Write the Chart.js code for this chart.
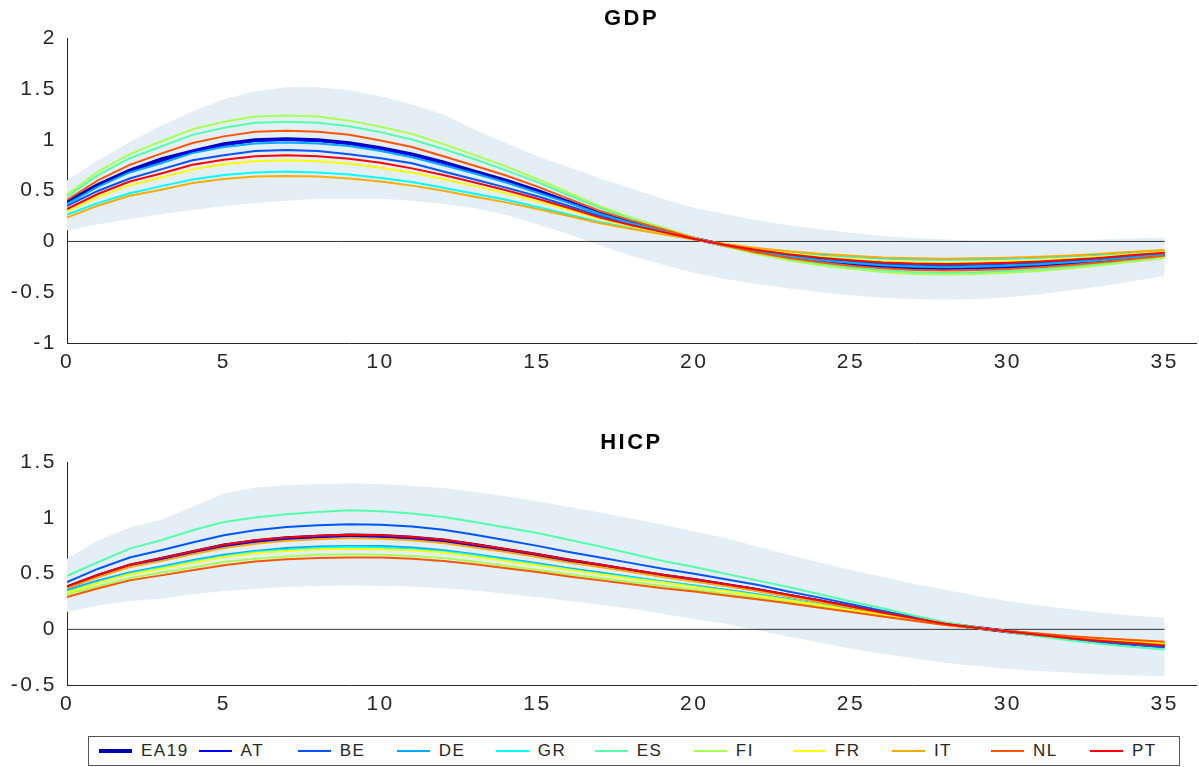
<!DOCTYPE html>
<html>
<head>
<meta charset="utf-8">
<script src="https://cdn.jsdelivr.net/npm/chart.js@4.4.1/dist/chart.umd.min.js"></script>
<style>
  html, body { margin: 0; padding: 0; background: #ffffff; }
  body { width: 1199px; height: 767px; position: relative; overflow: hidden; font-family: "Liberation Sans", Arial, sans-serif; }
  #c1 { position: absolute; left: 0; top: 0; }
  #c2 { position: absolute; left: 0; top: 420px; }
  #legend { position: absolute; left: 88px; top: 736px; width: 1090px; height: 28px; border: 1px solid #555; display: grid; grid-template-columns: repeat(11, 1fr); align-items: center; background: #fff; }
  .item { display: flex; align-items: center; padding-left: 10px; }
  .swatch { width: 33px; height: 0; margin-right: 9px; }
  .lbl { font-size: 17px; letter-spacing: 1.5px; color: #262626; }
</style>
</head>
<body>
<canvas id="c1" width="1199" height="380"></canvas>
<canvas id="c2" width="1199" height="300"></canvas>
<div id="legend"></div>
<script>
// ---------- data ----------
const periods = [0,1,2,3,4,5,6,7,8,9,10,11,12,13,14,15,16,17,18,19,20,21,22,23,24,25,26,27,28,29,30,31,32,33,34,35];
const xTicks = [0,5,10,15,20,25,30,35];
const gdpYTicks = [-1,-0.5,0,0.5,1,1.5,2];
const hicpYTicks = [-0.5,0,0.5,1,1.5];
const countries = ["EA19","AT","BE","DE","GR","ES","FI","FR","IT","NL","PT"];
const colors = ["#0000AA","#0000FF","#0055FF","#00AAFF","#00FFFF","#55FFAA","#AAFF55","#FFFF00","#FFAA00","#FF5500","#FF0000"];

const gdpEA19 = [0.39,0.56,0.70,0.81,0.89,0.96,1.00,1.01,1.00,0.97,0.92,0.86,0.78,0.69,0.60,0.50,0.39,0.28,0.19,0.11,0.03,-0.04,-0.10,-0.15,-0.19,-0.22,-0.245,-0.26,-0.265,-0.26,-0.25,-0.235,-0.215,-0.19,-0.16,-0.13];
const gdpAT = [0.38,0.55,0.69,0.79,0.89,0.95,0.99,1.00,0.99,0.96,0.91,0.85,0.77,0.68,0.59,0.49,0.39,0.28,0.19,0.11,0.03,-0.04,-0.10,-0.15,-0.19,-0.22,-0.24,-0.255,-0.26,-0.26,-0.25,-0.23,-0.21,-0.19,-0.16,-0.13];
const gdpBE = [0.35,0.50,0.62,0.71,0.80,0.85,0.89,0.90,0.89,0.86,0.82,0.77,0.69,0.61,0.53,0.445,0.35,0.25,0.17,0.10,0.03,-0.035,-0.09,-0.135,-0.17,-0.195,-0.22,-0.23,-0.235,-0.23,-0.22,-0.21,-0.19,-0.17,-0.14,-0.115];
const gdpDE = [0.37,0.54,0.68,0.77,0.87,0.93,0.965,0.975,0.965,0.94,0.89,0.83,0.75,0.67,0.58,0.48,0.38,0.27,0.18,0.105,0.03,-0.04,-0.095,-0.145,-0.185,-0.21,-0.235,-0.25,-0.255,-0.25,-0.24,-0.225,-0.205,-0.185,-0.155,-0.125];
const gdpGR = [0.265,0.38,0.475,0.545,0.61,0.655,0.68,0.69,0.68,0.66,0.625,0.585,0.53,0.47,0.41,0.34,0.265,0.19,0.13,0.075,0.02,-0.027,-0.068,-0.10,-0.13,-0.15,-0.167,-0.177,-0.18,-0.177,-0.17,-0.16,-0.146,-0.13,-0.11,-0.09];
const gdpES = [0.44,0.655,0.82,0.935,1.05,1.12,1.17,1.18,1.17,1.135,1.075,1.005,0.91,0.81,0.70,0.585,0.455,0.33,0.22,0.13,0.035,-0.047,-0.117,-0.175,-0.22,-0.257,-0.287,-0.304,-0.31,-0.304,-0.29,-0.275,-0.25,-0.22,-0.187,-0.152];
const gdpFI = [0.46,0.69,0.86,0.985,1.105,1.18,1.23,1.24,1.23,1.19,1.13,1.06,0.96,0.85,0.74,0.615,0.48,0.345,0.235,0.135,0.037,-0.05,-0.123,-0.185,-0.234,-0.27,-0.30,-0.32,-0.326,-0.32,-0.307,-0.29,-0.264,-0.234,-0.197,-0.16];
const gdpFR = [0.295,0.44,0.555,0.63,0.71,0.76,0.79,0.80,0.79,0.765,0.725,0.68,0.615,0.545,0.475,0.395,0.31,0.22,0.15,0.087,0.024,-0.032,-0.079,-0.118,-0.15,-0.174,-0.194,-0.205,-0.21,-0.205,-0.198,-0.186,-0.17,-0.15,-0.126,-0.103];
const gdpIT = [0.235,0.355,0.45,0.51,0.575,0.615,0.64,0.645,0.64,0.62,0.59,0.55,0.50,0.44,0.385,0.32,0.25,0.18,0.122,0.07,0.02,-0.026,-0.064,-0.096,-0.122,-0.14,-0.157,-0.166,-0.17,-0.166,-0.16,-0.15,-0.138,-0.122,-0.102,-0.083];
const gdpNL = [0.41,0.605,0.755,0.865,0.97,1.035,1.08,1.09,1.08,1.05,0.995,0.93,0.84,0.745,0.65,0.54,0.42,0.30,0.205,0.12,0.032,-0.043,-0.108,-0.162,-0.205,-0.238,-0.265,-0.28,-0.286,-0.28,-0.27,-0.254,-0.232,-0.205,-0.173,-0.14];
const gdpPT = [0.32,0.47,0.59,0.67,0.755,0.805,0.84,0.85,0.84,0.815,0.775,0.72,0.655,0.58,0.505,0.42,0.33,0.235,0.16,0.092,0.025,-0.034,-0.084,-0.126,-0.16,-0.185,-0.206,-0.218,-0.223,-0.218,-0.21,-0.197,-0.18,-0.16,-0.134,-0.11];
const gdpUpper = [0.60,0.80,0.98,1.14,1.28,1.40,1.48,1.52,1.52,1.49,1.43,1.35,1.25,1.10,0.97,0.84,0.73,0.62,0.52,0.42,0.33,0.27,0.21,0.16,0.12,0.085,0.055,0.035,0.02,0.01,0.005,0.005,0.01,0.02,0.03,0.04];
const gdpLower = [0.11,0.17,0.22,0.27,0.31,0.35,0.38,0.40,0.42,0.42,0.42,0.40,0.37,0.33,0.26,0.17,0.07,-0.04,-0.14,-0.23,-0.31,-0.37,-0.42,-0.46,-0.50,-0.53,-0.555,-0.57,-0.575,-0.57,-0.55,-0.52,-0.48,-0.44,-0.39,-0.34];

const hicpEA19 = [0.38,0.485,0.575,0.635,0.695,0.755,0.795,0.82,0.835,0.845,0.84,0.825,0.80,0.76,0.715,0.67,0.62,0.575,0.53,0.485,0.445,0.40,0.355,0.305,0.255,0.20,0.15,0.10,0.05,0.015,-0.02,-0.05,-0.08,-0.105,-0.125,-0.145];
const hicpAT = [0.375,0.48,0.565,0.625,0.685,0.745,0.785,0.81,0.825,0.835,0.83,0.815,0.79,0.75,0.705,0.66,0.61,0.565,0.52,0.48,0.44,0.395,0.35,0.30,0.25,0.197,0.148,0.098,0.049,0.015,-0.02,-0.05,-0.079,-0.103,-0.123,-0.143];
const hicpBE = [0.425,0.545,0.645,0.71,0.78,0.845,0.89,0.92,0.935,0.945,0.94,0.925,0.895,0.85,0.80,0.75,0.695,0.645,0.595,0.545,0.50,0.45,0.40,0.34,0.285,0.225,0.168,0.112,0.056,0.017,-0.022,-0.056,-0.09,-0.118,-0.14,-0.162];
const hicpDE = [0.355,0.44,0.51,0.565,0.62,0.67,0.705,0.73,0.745,0.75,0.75,0.735,0.71,0.675,0.635,0.595,0.55,0.51,0.47,0.43,0.395,0.355,0.315,0.27,0.225,0.178,0.133,0.089,0.045,0.013,-0.018,-0.045,-0.071,-0.093,-0.111,-0.129];
const hicpGR = [0.335,0.425,0.50,0.555,0.61,0.66,0.695,0.715,0.73,0.74,0.735,0.72,0.70,0.665,0.625,0.585,0.54,0.50,0.465,0.425,0.39,0.35,0.31,0.267,0.223,0.175,0.131,0.088,0.044,0.013,-0.018,-0.044,-0.07,-0.092,-0.109,-0.127];
const hicpES = [0.48,0.605,0.725,0.80,0.89,0.965,1.005,1.035,1.055,1.07,1.06,1.04,1.01,0.965,0.915,0.865,0.805,0.745,0.68,0.615,0.56,0.50,0.44,0.38,0.315,0.25,0.19,0.125,0.063,0.019,-0.025,-0.063,-0.10,-0.132,-0.158,-0.18];
const hicpFI = [0.315,0.39,0.46,0.51,0.555,0.605,0.635,0.655,0.67,0.675,0.67,0.66,0.64,0.61,0.57,0.535,0.495,0.46,0.425,0.39,0.355,0.32,0.285,0.245,0.205,0.16,0.12,0.08,0.04,0.012,-0.016,-0.04,-0.064,-0.084,-0.10,-0.116];
const hicpFR = [0.33,0.42,0.495,0.545,0.60,0.65,0.685,0.705,0.72,0.725,0.72,0.71,0.69,0.655,0.615,0.575,0.535,0.495,0.455,0.42,0.38,0.345,0.305,0.262,0.22,0.172,0.129,0.086,0.043,0.013,-0.017,-0.043,-0.069,-0.09,-0.108,-0.125];
const hicpIT = [0.37,0.47,0.56,0.615,0.675,0.73,0.77,0.795,0.81,0.82,0.815,0.80,0.775,0.735,0.695,0.65,0.60,0.56,0.515,0.47,0.43,0.39,0.345,0.295,0.245,0.195,0.145,0.097,0.048,0.015,-0.019,-0.048,-0.078,-0.10,-0.12,-0.14];
const hicpNL = [0.29,0.37,0.44,0.485,0.53,0.575,0.61,0.63,0.64,0.645,0.645,0.635,0.615,0.585,0.55,0.515,0.475,0.44,0.405,0.37,0.34,0.305,0.27,0.235,0.195,0.155,0.115,0.077,0.038,0.011,-0.015,-0.038,-0.061,-0.08,-0.096,-0.111];
const hicpPT = [0.385,0.49,0.58,0.64,0.70,0.76,0.80,0.825,0.84,0.85,0.845,0.83,0.805,0.765,0.72,0.675,0.625,0.58,0.535,0.49,0.45,0.405,0.36,0.31,0.26,0.205,0.152,0.10,0.05,0.015,-0.02,-0.05,-0.08,-0.105,-0.125,-0.145];
const hicpUpper = [0.635,0.80,0.915,0.985,1.10,1.22,1.275,1.295,1.305,1.31,1.305,1.29,1.27,1.235,1.195,1.15,1.10,1.05,0.995,0.94,0.88,0.82,0.745,0.67,0.60,0.535,0.47,0.41,0.355,0.30,0.255,0.215,0.18,0.15,0.125,0.105];
const hicpLower = [0.155,0.215,0.255,0.275,0.315,0.345,0.365,0.38,0.39,0.395,0.39,0.385,0.37,0.35,0.32,0.29,0.255,0.22,0.185,0.14,0.09,0.05,-0.01,-0.065,-0.12,-0.175,-0.22,-0.26,-0.30,-0.33,-0.355,-0.375,-0.39,-0.405,-0.415,-0.42];

const gdpSeries = [gdpEA19,gdpAT,gdpBE,gdpDE,gdpGR,gdpES,gdpFI,gdpFR,gdpIT,gdpNL,gdpPT];
const hicpSeries = [hicpEA19,hicpAT,hicpBE,hicpDE,hicpGR,hicpES,hicpFI,hicpFR,hicpIT,hicpNL,hicpPT];

// ---------- helpers ----------
const FONT = '"Liberation Sans", Arial, sans-serif';
const TXT = '#262626';
const BAND = '#E3EEF7';
const toXY = arr => periods.map((t, i) => ({ x: t, y: arr[i] }));

const spacing = {
  id: 'spacing',
  beforeUpdate(chart) { chart.ctx.letterSpacing = '2.5px'; },
  beforeDraw(chart) { chart.ctx.letterSpacing = '2.5px'; }
};

function buildChart(id, title, series, upper, lower, yMin, yMax, yTicks, titlePad, xHeight) {
  const datasets = [];
  datasets.push({ label: 'lower', data: toXY(lower), borderWidth: 0, pointRadius: 0, fill: false, order: 101 });
  datasets.push({ label: 'upper', data: toXY(upper), borderWidth: 0, pointRadius: 0, backgroundColor: BAND, fill: 0, order: 100 });
  datasets.push({ label: 'zero', data: [{ x: periods[0], y: 0 }, { x: periods[periods.length - 1], y: 0 }], borderColor: '#333333', borderWidth: 1, pointRadius: 0, fill: false, order: 50 });
  series.forEach((s, i) => {
    datasets.push({
      label: countries[i], data: toXY(s), borderColor: colors[i],
      borderWidth: i === 0 ? 3.5 : 2, pointRadius: 0, fill: false, tension: 0,
      order: 20 - i
    });
  });
  return new Chart(document.getElementById(id), {
    type: 'line',
    data: { datasets },
    plugins: [spacing],
    options: {
      responsive: false, animation: false, events: [],
      layout: { padding: { left: 0, right: 3, top: 0, bottom: 0 } },
      plugins: {
        legend: { display: false }, tooltip: { enabled: false },
        title: { display: true, text: title, fullSize: false, color: '#000000',
                 font: { family: FONT, size: 22, weight: 'bold' }, padding: titlePad }
      },
      scales: {
        x: {
          type: 'linear', min: 0, max: 36,
          afterBuildTicks: sc => { sc.ticks = xTicks.map(v => ({ value: v })); },
          afterFit: sc => { sc.height = xHeight; },
          grid: { display: false, drawTicks: false },
          border: { display: true, color: TXT, width: 1 },
          ticks: { color: TXT, font: { family: FONT, size: 21 }, padding: 7, maxRotation: 0, autoSkip: false, callback: v => String(v) }
        },
        y: {
          type: 'linear', min: yMin, max: yMax,
          afterBuildTicks: sc => { sc.ticks = yTicks.map(v => ({ value: v })); },
          afterFit: sc => { sc.width = 67; },
          grid: { display: false, drawTicks: false },
          border: { display: true, color: TXT, width: 1 },
          ticks: { color: TXT, font: { family: FONT, size: 21 }, padding: 10, autoSkip: false, callback: v => String(v) }
        }
      }
    }
  });
}

buildChart('c1', 'GDP', gdpSeries, gdpUpper, gdpLower, -1, 2, gdpYTicks, { top: 6, bottom: 6 }, 37);
buildChart('c2', 'HICP', hicpSeries, hicpUpper, hicpLower, -0.5, 1.5, hicpYTicks, { top: 10, bottom: 6 }, 35);

// ---------- legend ----------
const leg = document.getElementById('legend');
countries.forEach((name, i) => {
  const it = document.createElement('div');
  it.className = 'item';
  const sw = document.createElement('span');
  sw.className = 'swatch';
  sw.style.borderTop = (i === 0 ? 4 : 2) + 'px solid ' + colors[i];
  const lb = document.createElement('span');
  lb.className = 'lbl';
  lb.textContent = name;
  it.appendChild(sw); it.appendChild(lb);
  leg.appendChild(it);
});
</script>
</body>
</html>
